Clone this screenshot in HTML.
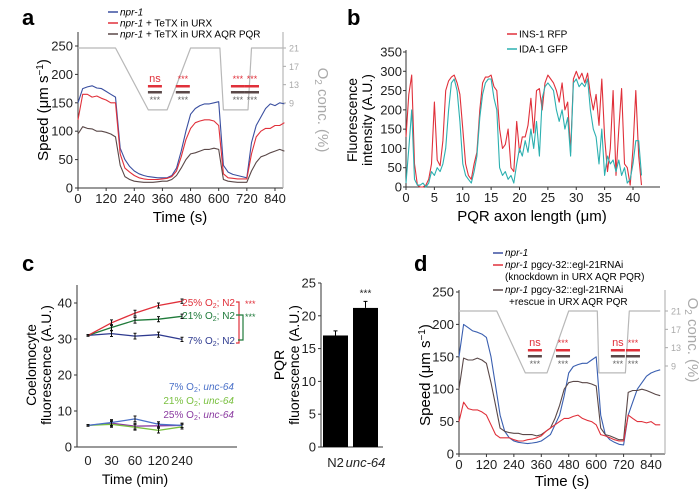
<!DOCTYPE html>
<html><head><meta charset="utf-8"><style>
html,body{margin:0;padding:0;background:#fff}
svg{display:block;font-family:"Liberation Sans",Arial,sans-serif}
</style></head><body>
<svg id="fig" width="700" height="499" viewBox="0 0 700 499" xmlns="http://www.w3.org/2000/svg">
<rect width="700" height="499" fill="#fff"/>
<!-- panel letters -->
<text x="22" y="25" font-size="22" font-weight="bold">a</text>
<text x="347" y="25" font-size="22" font-weight="bold">b</text>
<text x="22" y="271" font-size="22" font-weight="bold">c</text>
<text x="414" y="271" font-size="22" font-weight="bold">d</text>

<!-- panel a legend -->
<g font-size="10">
<line x1="108" y1="12" x2="118" y2="12" stroke="#3a4fa0" stroke-width="1.5"/><text x="120" y="15.5" font-style="italic">npr-1</text>
<line x1="108" y1="23" x2="118" y2="23" stroke="#e0303a" stroke-width="1.5"/><text x="120" y="26.5"><tspan font-style="italic">npr-1</tspan> + TeTX in URX</text>
<line x1="108" y1="34" x2="118" y2="34" stroke="#5a4848" stroke-width="1.5"/><text x="120" y="37.5"><tspan font-style="italic">npr-1</tspan> + TeTX in URX AQR PQR</text>
</g>
<text transform="translate(48,110) rotate(-90)" text-anchor="middle" font-size="15">Speed (μm s<tspan dy="-5" font-size="10">−1</tspan><tspan dy="5">)</tspan></text>
<text x="180" y="222" text-anchor="middle" font-size="15">Time (s)</text>
<text transform="translate(318,110) rotate(90)" text-anchor="middle" font-size="15" fill="#aaa">O<tspan font-size="10" dy="3">2</tspan><tspan dy="-3"> conc. (%)</tspan></text>

<!-- panel b -->
<g font-size="10">
<line x1="507" y1="34" x2="517" y2="34" stroke="#e0303a" stroke-width="1.5"/><text x="519" y="37.5">INS-1 RFP</text>
<line x1="507" y1="49" x2="517" y2="49" stroke="#2cb0b0" stroke-width="1.5"/><text x="519" y="52.5">IDA-1 GFP</text>
</g>
<text transform="translate(357,120) rotate(-90)" text-anchor="middle" font-size="14">Fluorescence</text>
<text transform="translate(372,120) rotate(-90)" text-anchor="middle" font-size="14">intensity (A.U.)</text>
<text x="532" y="221" text-anchor="middle" font-size="15">PQR axon length (μm)</text>

<!-- panel c -->
<text transform="translate(36,365) rotate(-90)" text-anchor="middle" font-size="14">Coelomocyte</text>
<text transform="translate(51,365) rotate(-90)" text-anchor="middle" font-size="14">fluorescence (A.U.)</text>
<text x="135" y="484" text-anchor="middle" font-size="14">Time (min)</text>
<g font-size="10" text-anchor="end">
<text x="235" y="306" fill="#e0303a">25% O<tspan font-size="7" dy="2">2</tspan><tspan dy="-2">; N2</tspan></text>
<text x="235" y="319" fill="#1f7a3a">21% O<tspan font-size="7" dy="2">2</tspan><tspan dy="-2">; N2</tspan></text>
<text x="235" y="344" fill="#2e3a8f">7% O<tspan font-size="7" dy="2">2</tspan><tspan dy="-2">; N2</tspan></text>
<text x="234" y="390" fill="#4a70c8">7% O<tspan font-size="7" dy="2">2</tspan><tspan dy="-2">; </tspan><tspan font-style="italic">unc-64</tspan></text>
<text x="234" y="404" fill="#7ac040">21% O<tspan font-size="7" dy="2">2</tspan><tspan dy="-2">; </tspan><tspan font-style="italic">unc-64</tspan></text>
<text x="234" y="418" fill="#8a3aa0">25% O<tspan font-size="7" dy="2">2</tspan><tspan dy="-2">; </tspan><tspan font-style="italic">unc-64</tspan></text>
</g>
<path d="M236,302 H239 V343 H236" fill="none" stroke="#e0303a" stroke-width="1.2"/>
<path d="M236,315 H243 V340 H238" fill="none" stroke="#1f7a3a" stroke-width="1.2"/>
<text x="245" y="307" font-size="9" fill="#e0303a">***</text>
<text x="245" y="320" font-size="9" fill="#1f7a3a">***</text>
<!-- bar chart -->
<text transform="translate(284,365) rotate(-90)" text-anchor="middle" font-size="14">PQR</text>
<text transform="translate(299,365) rotate(-90)" text-anchor="middle" font-size="14">fluorescence (A.U.)</text>

<!-- panel d legend -->
<g font-size="10">
<line x1="493" y1="253" x2="503" y2="253" stroke="#3a4fa0" stroke-width="1.5"/><text x="505" y="256" font-style="italic">npr-1</text>
<line x1="493" y1="265" x2="503" y2="265" stroke="#e0303a" stroke-width="1.5"/><text x="505" y="268"><tspan font-style="italic">npr-1</tspan> pgcy-32::egl-21RNAi</text>
<text x="505" y="280">(knockdown in URX AQR PQR)</text>
<line x1="493" y1="290" x2="503" y2="290" stroke="#5a4848" stroke-width="1.5"/><text x="505" y="293"><tspan font-style="italic">npr-1</tspan> pgcy-32::egl-21RNAi</text>
<text x="509" y="305">+rescue in URX AQR PQR</text>
</g>
<text transform="translate(430,375) rotate(-90)" text-anchor="middle" font-size="15">Speed (μm s<tspan dy="-5" font-size="10">−1</tspan><tspan dy="5">)</tspan></text>
<text x="562" y="486" text-anchor="middle" font-size="15">Time (s)</text>
<text transform="translate(688,340) rotate(90)" text-anchor="middle" font-size="15" fill="#aaa">O<tspan font-size="10" dy="3">2</tspan><tspan dy="-3"> conc. (%)</tspan></text>
</svg>
<script>
// ---------- data ----------
const timeA = [0,20,40,60,80,100,120,140,160,180,200,220,240,260,280,300,320,340,360,380,400,420,440,460,480,500,520,540,560,580,600,620,640,660,680,700,720,740,760,780,800,820,840,860,880];
const aBlue = [150,175,178,180,176,175,170,165,160,70,50,38,30,25,22,20,19,18,18,18,22,35,65,100,130,140,145,148,148,150,152,40,28,24,22,20,18,80,110,125,140,148,145,150,148];
const aRed = [120,165,165,160,162,158,155,150,150,60,35,28,22,18,16,15,15,15,16,17,20,30,55,85,105,115,118,120,120,118,110,25,18,17,16,16,16,60,90,100,105,105,110,110,115];
const aBrown = [95,108,105,104,100,100,98,95,90,40,20,15,12,11,10,10,10,11,12,12,15,22,35,50,60,62,65,68,68,70,68,15,12,11,10,10,10,30,45,55,58,62,65,68,65];
const o2TimeA = [0,160,300,380,480,605,620,725,740,880];
const o2A = [21,21,7.5,7.5,21,21,7.5,7.5,21,21];
const sigTimesA = [328,447,682,742];
const sigTopA = ["ns","***","***","***"];

const timeD = timeA;
const dBlue = [150,200,195,190,188,185,180,150,105,60,35,25,20,18,17,16,17,18,20,25,30,45,60,90,125,135,138,140,140,145,150,60,30,22,18,15,14,60,80,100,110,120,125,128,130];
const dRed = [50,80,70,68,68,65,60,45,30,25,25,25,22,20,20,22,23,25,28,35,40,45,50,55,55,58,60,55,52,50,45,30,28,25,22,20,20,60,55,50,50,48,50,45,45];
const dBrown = [100,148,145,145,148,145,140,110,75,40,35,33,32,32,30,30,30,28,30,35,40,55,75,100,110,112,112,110,110,108,105,40,30,28,25,22,22,95,98,98,100,98,95,92,90];
const o2TimeD = [0,165,290,385,480,605,612,728,745,880];
const o2D = [21,21,7.5,7.5,21,21,7.5,7.5,21,21];
const sigTimesD = [332,455,695,761];
const sigTopD = ["ns","***","ns","***"];

const posB = [];
for (let i = 0; i < 84; i++) posB.push(i * 0.5);
const insRed = [130,240,290,60,5,0,0,5,20,60,220,70,55,120,250,275,285,290,270,240,150,60,30,20,60,90,200,270,285,285,290,260,250,150,100,110,150,50,40,170,90,130,130,160,230,140,250,255,200,270,290,280,270,250,220,270,200,220,90,280,300,280,295,270,295,240,200,240,160,280,130,40,100,250,30,150,255,60,50,5,100,250,80,5];
const idaCyan = [10,100,200,20,5,5,10,0,10,40,30,50,40,60,100,200,270,280,250,170,60,30,20,10,40,80,180,240,270,280,280,230,200,50,30,40,20,30,10,60,100,80,120,90,150,100,170,80,230,260,270,260,250,200,170,200,150,180,80,270,280,260,270,260,280,200,150,130,60,150,30,80,60,70,40,70,30,50,10,20,60,120,120,30];

const catsC = ["0","30","60","120","240"];
const c25N2 = [31,34.5,37.2,39.3,40.5];
const c21N2 = [31,33.2,35.2,35.5,36.3];
const c7N2 = [31,31.5,30.8,31.2,29.9];
const c7Unc = [6,6.8,7.8,6.3,6];
const c21Unc = [6,6.3,5.5,4.6,5.6];
const c25Unc = [6,6.6,5.8,5.9,6];
const errC = [0.2,0.8,0.8,0.7,0.6];

const barCats = ["N2","unc-64"];
const barVals = [17,21.2];
const barErr = [0.7,1.0];

// ---------- helpers ----------
const NS = "http://www.w3.org/2000/svg";
const svg = document.getElementById("fig");
function mk(tag, attrs, parent) {
  const e = document.createElementNS(NS, tag);
  for (const k in attrs) e.setAttribute(k, attrs[k]);
  (parent || svg).appendChild(e);
  return e;
}
function txt(x, y, s, size, anchor, fill) {
  const t = mk("text", {x: x, y: y, "font-size": size, "text-anchor": anchor || "middle", fill: fill || "#222"});
  t.textContent = s;
  return t;
}
function poly(xs, ys, fx, fy, color, w) {
  let d = "";
  for (let i = 0; i < xs.length; i++) d += (i ? "L" : "M") + fx(xs[i]).toFixed(1) + "," + fy(ys[i]).toFixed(1);
  return mk("path", {d: d, fill: "none", stroke: color, "stroke-width": w || 1.2, "stroke-linejoin": "round"});
}

// ---------- panel a / d speed charts ----------
function speedPanel(p) {
  const xs = t => p.x0 + t * p.kx;
  const ys = v => p.y0 - v * p.ky;
  const yo = v => p.o21 + (21 - v) * p.ko;
  const ax = mk("path", {d: `M${p.x0},${p.yTop} V${p.y0} H${p.xR}`, fill: "none", stroke: "#333", "stroke-width": 1});
  
  
  const rx = mk("line", {x1: p.xR, y1: p.yTop, x2: p.xR, y2: p.y0, stroke: "#aaa", "stroke-width": 1});
  
  
  [0,50,100,150,200,250].forEach(v => {
    mk("line", {x1: p.x0 - 3, y1: ys(v), x2: p.x0, y2: ys(v), stroke: "#333"});
    const t = txt(p.x0 - 5, ys(v) + 4.5, String(v), 13, "end");
    
    
  });
  [0,120,240,360,480,600,720,840].forEach(v => {
    mk("line", {x1: xs(v), y1: p.y0, x2: xs(v), y2: p.y0 + 3, stroke: "#333"});
    const t = txt(xs(v), p.y0 + 15, String(v), 13);
    
    
  });
  [9,13,17,21].forEach(v => {
    mk("line", {x1: p.xR, y1: yo(v), x2: p.xR + 3, y2: yo(v), stroke: "#aaa"});
    const t = txt(p.xR + 6, yo(v) + 3.5, String(v), 9, "start", "#aaa");
    
    
  });
  const o = poly(p.o2t, p.o2v, xs, yo, "#b8b8b8", 1.2);
  
  
  p.series.forEach(s => {
    const l = poly(p.t, s.v, xs, ys, s.c, 1.1);
    
    
  });
  p.sigT.forEach((t, i) => {
    const x = xs(t);
    const a = txt(x, p.sigY, p.sigTop[i], p.sigTop[i] === "ns" ? 11 : 9, "middle", "#e0303a");
    
    
    mk("rect", {x: x - 7, y: p.sigY + 3, width: 14, height: 2.5, fill: "#e0303a"});
    mk("rect", {x: x - 7, y: p.sigY + 9, width: 14, height: 2.5, fill: "#5a4848"});
    const b = txt(x, p.sigY + 21, "***", 9, "middle", "#666");
    
    
  });
}
speedPanel({name: "panel-a", x0: 78, kx: 0.2345, y0: 188, ky: 0.568, yTop: 32, xR: 283, o21: 48, ko: 4.583,
  t: timeA, o2t: o2TimeA, o2v: o2A, sigT: sigTimesA, sigTop: sigTopA, sigY: 82,
  series: [{n: "npr1-line", v: aBlue, c: "#3a4fa0"}, {n: "tetx-urx-line", v: aRed, c: "#e0303a"}, {n: "tetx-all-line", v: aBrown, c: "#5a4848"}]});
speedPanel({name: "panel-d", x0: 459, kx: 0.2286, y0: 454, ky: 0.648, yTop: 290, xR: 665, o21: 311, ko: 4.583,
  t: timeD, o2t: o2TimeD, o2v: o2D, sigT: sigTimesD, sigTop: sigTopD, sigY: 346,
  series: [{n: "npr1-line", v: dBlue, c: "#3a5fb0"}, {n: "brown-rescue-line", v: dBrown, c: "#5a4848"}, {n: "red-knockdown-line", v: dRed, c: "#e0303a"}]});

// ---------- panel b ----------
(function () {
  const xb = u => 406 + u * 5.675;
  const yb = v => 187 - v * (135 / 350);
  const ax = mk("path", {d: "M406,50 V187 H660", fill: "none", stroke: "#333"});
  
  
  [0,50,100,150,200,250,300,350].forEach(v => {
    mk("line", {x1: 403, y1: yb(v), x2: 406, y2: yb(v), stroke: "#333"});
    const t = txt(402, yb(v) + 4.5, String(v), 13, "end");
    
    
  });
  [0,5,10,15,20,25,30,35,40].forEach(v => {
    mk("line", {x1: xb(v), y1: 187, x2: xb(v), y2: 190, stroke: "#333"});
    const t = txt(xb(v), 202, String(v), 13);
    
    
  });
  const r = poly(posB, insRed, xb, yb, "#e0303a", 1.1);
  
  
  const c = poly(posB, idaCyan, xb, yb, "#2cb0b0", 1.1);
  
  
})();

// ---------- panel c ----------
(function () {
  const xc = i => 88 + i * 23.5;
  const yc = v => 447 - v * 3.6;
  const ax = mk("path", {d: "M77,285 V447 H237", fill: "none", stroke: "#333"});
  
  
  [0,10,20,30,40].forEach(v => {
    mk("line", {x1: 74, y1: yc(v), x2: 77, y2: yc(v), stroke: "#333"});
    const t = txt(72, yc(v) + 4.5, String(v), 13, "end");
    
    
  });
  catsC.forEach((c, i) => {
    const t = txt(xc(i), 465, c, 13);
    
    
  });
  const series = [[c7N2, "#2e3a8f", "n2-7"], [c21N2, "#1f7a3a", "n2-21"], [c25N2, "#e0303a", "n2-25"],
    [c25Unc, "#8a3aa0", "unc64-25"], [c21Unc, "#7ac040", "unc64-21"], [c7Unc, "#4a70c8", "unc64-7"]];
  const idx = catsC.map((c, i) => i);
  series.forEach(s => {
    const l = poly(idx, s[0], xc, yc, s[1], 1.3);
    
    
    s[0].forEach((v, i) => {
      const e = mk("path", {d: `M${xc(i)},${yc(v + errC[i])} V${yc(v - errC[i])} M${xc(i) - 1.5},${yc(v + errC[i])} h3 M${xc(i) - 1.5},${yc(v - errC[i])} h3`, stroke: "#111", "stroke-width": 1, fill: "none"});
      
      
    });
  });
  // bar chart
  const yr = v => 447 - v * 6.56;
  const bx = [323, 353];
  const ax2 = mk("path", {d: "M321,283 V447 H383", fill: "none", stroke: "#333"});
  
  
  [0,5,10,15,20,25].forEach(v => {
    mk("line", {x1: 318, y1: yr(v), x2: 321, y2: yr(v), stroke: "#333"});
    const t = txt(316, yr(v) + 4.5, String(v), 13, "end");
    
    
  });
  barVals.forEach((v, i) => {
    const b = mk("rect", {x: bx[i], y: yr(v), width: 25, height: 447 - yr(v), fill: "#000"});
    
    
    const cx = bx[i] + 12.5;
    mk("path", {d: `M${cx},${yr(v)} V${yr(v + barErr[i])} M${cx - 2},${yr(v + barErr[i])} h4`, stroke: "#000", fill: "none"});
    const t = txt(cx, 467, barCats[i], 13);
    if (i === 1) t.setAttribute("font-style", "italic");
    
    
  });
  const s = txt(bx[1] + 12.5, yr(barVals[1] + barErr[1]) - 5, "***", 10);
  
  
})();
</script>
</body></html>
